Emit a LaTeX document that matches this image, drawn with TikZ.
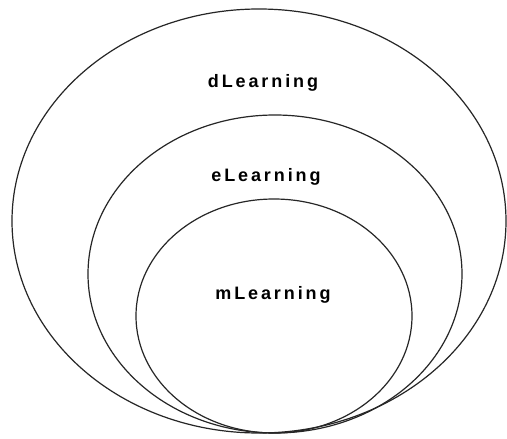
\documentclass[tikz,border=0pt]{standalone}
\usepackage{fontspec}
\setmainfont{Liberation Sans}
\newfontfamily\lblfont[LetterSpace=16]{Liberation Sans}
\begin{document}
\begin{tikzpicture}[x=1pt,y=-1pt,
  ring/.style={draw=black!85, line width=1.2pt},
  lbl/.style={font=\lblfont\bfseries\fontsize{18}{20}\selectfont, inner sep=0pt}]
\useasboundingbox[fill=white] (0,0) rectangle (507,439);
\draw[ring] (259,221) ellipse [x radius=247, y radius=212];
\draw[ring] (275,274) ellipse [x radius=187, y radius=159];
\draw[ring] (274,316) ellipse [x radius=138, y radius=117];
\node[lbl] (d) at (263,83) {dLearning};
\node[lbl] (e) at (266,177) {eLearning};
\node[lbl] (m) at (273,295) {mLearning};
\end{tikzpicture}
\end{document}
